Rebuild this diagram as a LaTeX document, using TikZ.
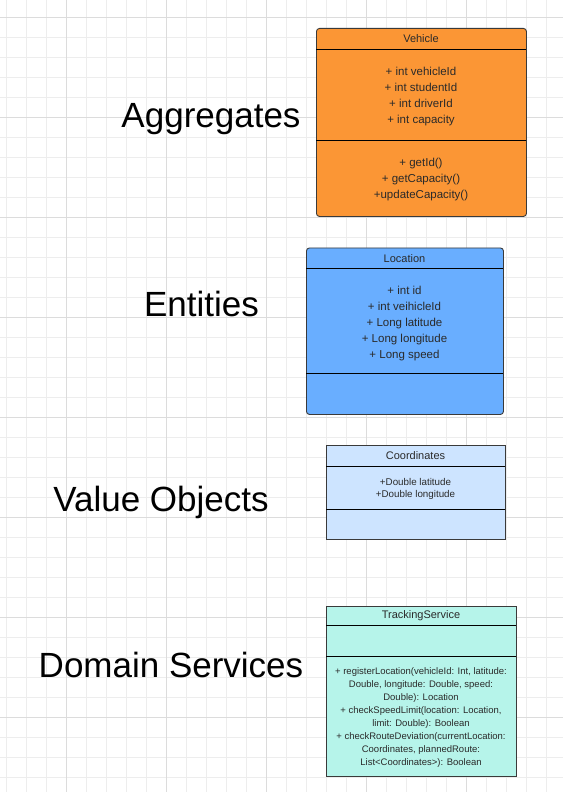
\documentclass[tikz,border=0pt]{standalone}
\usepackage{fontspec}
\setmainfont{Liberation Sans}
\definecolor{gridminor}{HTML}{EDEDED}
\definecolor{gridmajor}{HTML}{DCDCDC}
\definecolor{vehfill}{HTML}{FB9635}
\definecolor{locfill}{HTML}{69AEFF}
\definecolor{coofill}{HTML}{CDE4FF}
\definecolor{trkfill}{HTML}{B6F4EA}
\definecolor{edge}{HTML}{3A3A3A}
\definecolor{txt}{HTML}{2A2A2A}
\begin{document}
\begin{tikzpicture}[x=1pt,y=-1pt,
  umlbox/.style={draw=edge, line width=0.9pt, anchor=north west, inner sep=0pt},
  sep/.style={draw=black, line width=0.8pt},
  hdr/.style={font=\fontsize{11}{13}\selectfont, text=txt, inner sep=0pt},
  attr/.style={font=\fontsize{11.5}{16}\selectfont, text=txt, align=center, inner sep=0pt},
  sattr/.style={font=\fontsize{9.8}{12}\selectfont, text=txt, align=center, inner sep=0pt},
  mattr/.style={font=\fontsize{9.5}{13}\selectfont, text=txt, align=center, inner sep=0pt},
  big/.style={font=\fontsize{35}{40}\selectfont, text=black, inner sep=0pt, anchor=base}]
\useasboundingbox (0,0) rectangle (563,792);
\fill[white] (0,0) rectangle (563,792);
% grid
\foreach \x in {6.7,26.7,...,563} \draw[gridminor, line width=0.8pt] (\x,0) -- (\x,792);
\foreach \y in {17,37,...,792} \draw[gridminor, line width=0.8pt] (0,\y) -- (563,\y);
\foreach \x in {66.7,166.7,...,563} \draw[gridmajor, line width=0.8pt] (\x,0) -- (\x,792);
\foreach \y in {17,117,...,792} \draw[gridmajor, line width=0.8pt] (0,\y) -- (563,\y);

% Vehicle
\node[umlbox, fill=vehfill, rounded corners=3pt, minimum width=210pt, minimum height=188pt] (veh) at (316,28) {};
\draw[sep] (316,49) -- (526,49);
\draw[sep] (316,140) -- (526,140);
\node[hdr] (vehT) at (421,38.5) {Vehicle};
\node[attr] (vehA) at (421,97) {+ int vehicleId\\+ int studentId\\+ int driverId\\+ int capacity};
\node[attr] (vehM) at (421,180) {+ getId()\\+ getCapacity()\\+updateCapacity()};

% Location
\node[umlbox, fill=locfill, rounded corners=3pt, minimum width=197pt, minimum height=166.5pt] (loc) at (306,247.5) {};
\draw[sep] (306,268.7) -- (503,268.7);
\draw[sep] (306,373.3) -- (503,373.3);
\node[hdr] (locT) at (404.5,258.5) {Location};
\node[attr] (locA) at (404.5,323.5) {+ int id\\+ int veihicleId\\+ Long latitude\\+ Long longitude\\+ Long speed};

% Coordinates
\node[umlbox, fill=coofill, minimum width=179pt, minimum height=93.7pt] (coo) at (326,445.3) {};
\draw[sep] (326,466) -- (505,466);
\draw[sep] (326,509.3) -- (505,509.3);
\node[hdr] (cooT) at (415.5,456) {Coordinates};
\node[sattr] (cooA) at (415.5,488.8) {+Double latitude\\+Double longitude};

% TrackingService
\node[umlbox, fill=trkfill, minimum width=190pt, minimum height=170.3pt] (trk) at (326,605.7) {};
\draw[sep] (326,625.7) -- (516,625.7);
\draw[sep] (326,656) -- (516,656);
\node[hdr] (trkT) at (421,616) {TrackingService};
\node[mattr] (trkM) at (421,717.8) {+ registerLocation(vehicleId: Int, latitude:\\Double, longitude: Double, speed:\\Double): Location\\+ checkSpeedLimit(location: Location,\\limit: Double): Boolean\\+ checkRouteDeviation(currentLocation:\\Coordinates, plannedRoute:\\List<Coordinates>): Boolean};

% category labels
\node[big] (lagg) at (211,127.3) {Aggregates};
\node[big] (lent) at (201.5,316) {Entities};
\node[big] (lval) at (161,511) {Value Objects};
\node[big] (ldom) at (171,677.3) {Domain Services};
\end{tikzpicture}
\end{document}
